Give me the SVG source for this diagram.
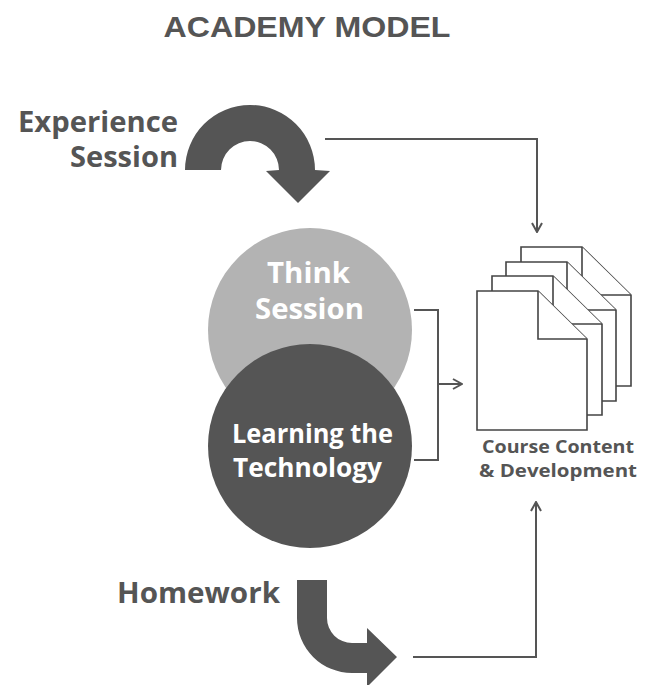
<svg xmlns="http://www.w3.org/2000/svg" width="652" height="685" viewBox="0 0 652 685">
<style>
.lbl{font-family:"Open Sans","Liberation Sans",sans-serif;font-weight:700;fill:#555}
.wt{font-family:"Open Sans","Liberation Sans",sans-serif;font-weight:700;fill:#fff}
.conn{fill:none;stroke:#555;stroke-width:2}
.doc{fill:#fff;stroke:#444;stroke-width:1.6;stroke-linejoin:miter}
.big{fill:#555}
</style>
<defs>
<marker id="ah" viewBox="0 0 12 12" refX="11" refY="6" markerWidth="12" markerHeight="12" orient="auto" markerUnits="userSpaceOnUse">
<path d="M2,1 L11,6 L2,11" fill="none" stroke="#555" stroke-width="2"/>
</marker>
<g id="docshape">
<path class="doc" d="M0,0 H61 L110,48 V139 H0 Z"/>
<path class="doc" fill="none" d="M61,0 V48 H110"/>
</g>
</defs>
<rect width="652" height="685" fill="#fff"/>
<text x="307" y="37" text-anchor="middle" font-family="Liberation Sans, Arial, sans-serif" font-weight="700" font-size="30" fill="#555" textLength="287" lengthAdjust="spacingAndGlyphs">ACADEMY MODEL</text>

<g id="connectors">
<path class="conn" d="M325,139 H537 V232" marker-end="url(#ah)"/>
<path class="conn" d="M414,310 H438 V460 H414"/>
<path class="conn" d="M438,384 H462" marker-end="url(#ah)"/>
<path class="conn" d="M413,657 H536 V502" marker-end="url(#ah)"/>
</g>

<g id="experience">
<path class="big" d="M185,170 A65,65 0 0 1 315,170 L330,171 L298,203 L266,171 L279,170 A29,29 0 0 0 221,170 Z"/>
<text class="lbl" font-size="28"><tspan x="18" y="132" textLength="160" lengthAdjust="spacingAndGlyphs">Experience</tspan><tspan x="70" y="167" textLength="108" lengthAdjust="spacingAndGlyphs">Session</tspan></text>
</g>

<g id="think">
<circle cx="310" cy="330" r="102" fill="#b3b3b3"/>
<text class="wt" font-size="29"><tspan x="267" y="283" textLength="83" lengthAdjust="spacingAndGlyphs">Think</tspan><tspan x="255" y="319" textLength="109" lengthAdjust="spacingAndGlyphs">Session</tspan></text>
</g>

<g id="learning">
<circle cx="310" cy="446" r="102" fill="#555"/>
<text class="wt" font-size="27"><tspan x="232" y="443" textLength="161" lengthAdjust="spacingAndGlyphs">Learning the</tspan><tspan x="233" y="477" textLength="149" lengthAdjust="spacingAndGlyphs">Technology</tspan></text>
</g>

<g id="homework">
<path class="big" d="M297,580 L327,580 L327,618 A25,25 0 0 0 352,643 L367,643 L367,628 L397,657 L367,687 L367,673 L352,673 A55,55 0 0 1 297,618 Z"/>
<text class="lbl" font-size="28" x="117" y="603" textLength="163" lengthAdjust="spacingAndGlyphs">Homework</text>
</g>

<g id="course">
<use href="#docshape" transform="translate(521,247)"/>
<use href="#docshape" transform="translate(506,262)"/>
<use href="#docshape" transform="translate(492,276)"/>
<use href="#docshape" transform="translate(477,291)"/>
<text class="lbl" font-size="17" text-anchor="middle"><tspan x="558" y="453" textLength="152" lengthAdjust="spacingAndGlyphs">Course Content</tspan><tspan x="558" y="477" textLength="158" lengthAdjust="spacingAndGlyphs">&amp; Development</tspan></text>
</g>
</svg>
